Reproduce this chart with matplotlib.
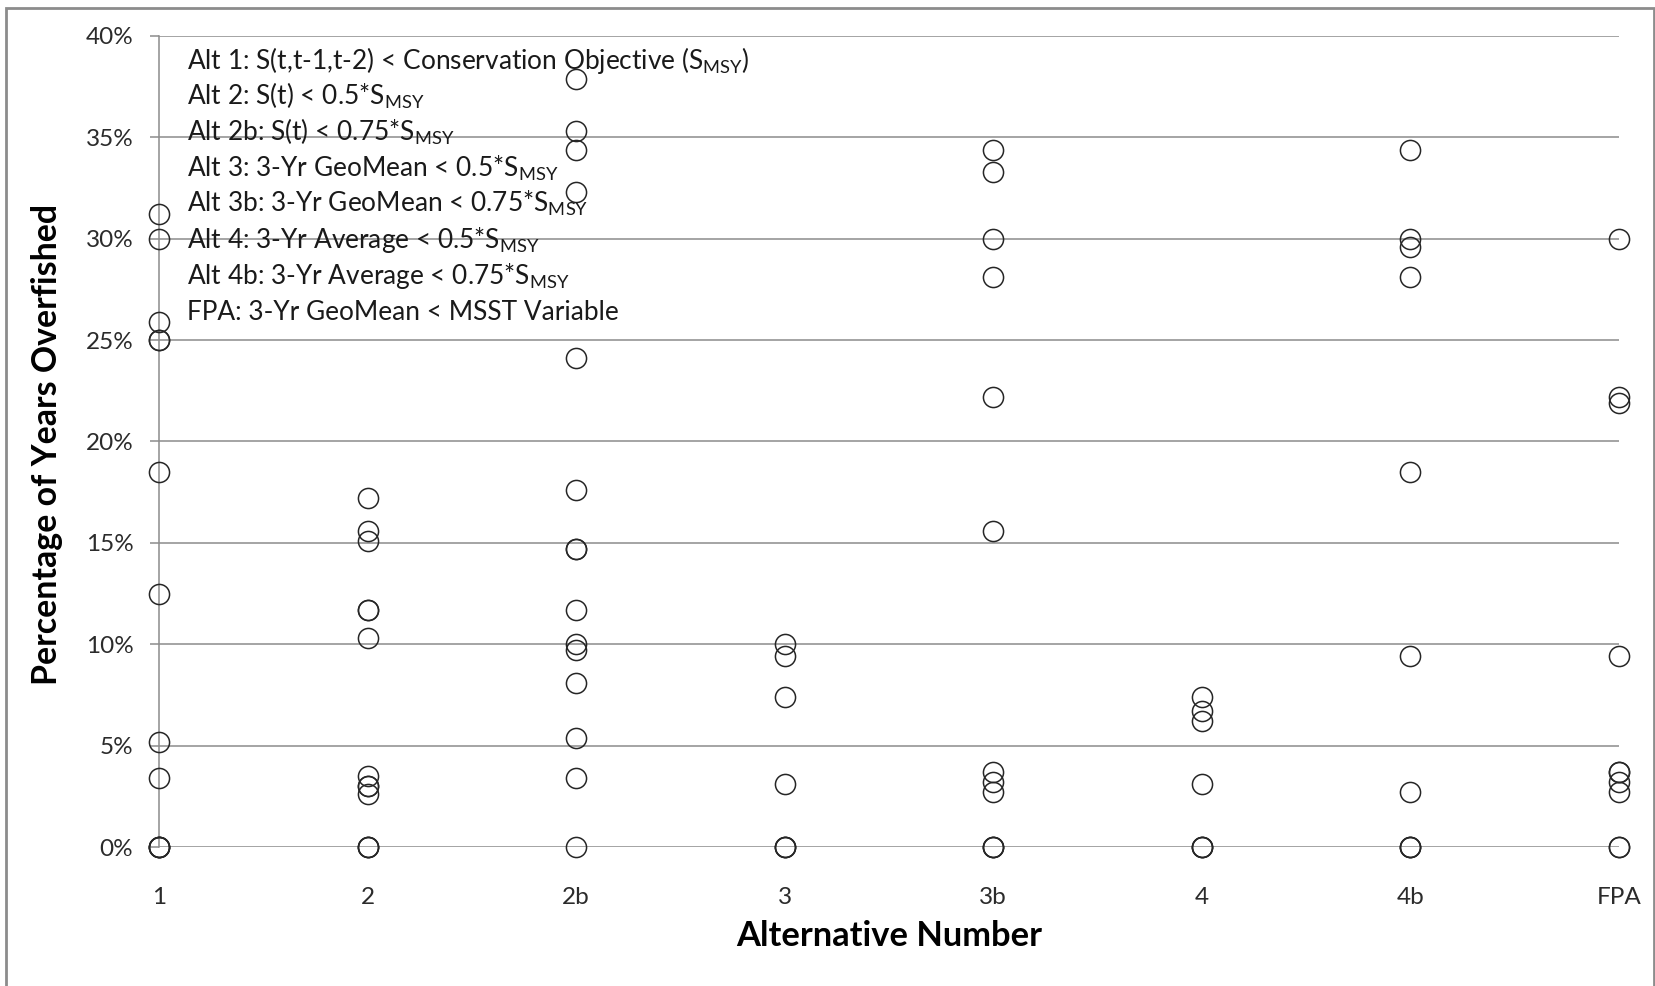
import matplotlib
matplotlib.use("Agg")
import matplotlib.pyplot as plt
from matplotlib.patches import Rectangle

# ---------------- data ----------------
categories = ["1", "2", "2b", "3", "3b", "4", "4b", "FPA"]

alt_1 = [31.2, 30.0, 25.9, 25.0, 25.0, 18.5, 12.5, 5.2, 3.4, 0, 0, 0, 0]
alt_2 = [17.2, 15.6, 15.1, 11.7, 11.7, 10.3, 3.5, 3.0, 3.0, 2.6, 0, 0, 0]
alt_2b = [37.9, 35.3, 34.4, 32.3, 24.1, 17.6, 14.7, 14.7, 11.7, 10.0, 9.7, 8.1, 5.4, 3.4, 0]
alt_3 = [10.0, 9.4, 7.4, 3.1, 0, 0, 0]
alt_3b = [34.4, 33.3, 30.0, 28.1, 22.2, 15.6, 3.7, 3.2, 2.7, 0, 0, 0]
alt_4 = [7.4, 6.7, 6.2, 3.1, 0, 0, 0]
alt_4b = [34.4, 30.0, 29.6, 28.1, 18.5, 9.4, 2.7, 0, 0, 0]
alt_fpa = [30.0, 22.2, 21.9, 9.4, 3.7, 3.7, 3.2, 2.7, 0, 0]

series = [alt_1, alt_2, alt_2b, alt_3, alt_3b, alt_4, alt_4b, alt_fpa]

y_ticks = [0, 5, 10, 15, 20, 25, 30, 35, 40]
y_tick_labels = ["0%", "5%", "10%", "15%", "20%", "25%", "30%", "35%", "40%"]

note_lines = [
    r"Alt 1: S(t,t-1,t-2) < Conservation Objective (S$\mathregular{_{MSY}}$)",
    r"Alt 2: S(t) < 0.5*S$\mathregular{_{MSY}}$",
    r"Alt 2b: S(t) < 0.75*S$\mathregular{_{MSY}}$",
    r"Alt 3: 3-Yr GeoMean < 0.5*S$\mathregular{_{MSY}}$",
    r"Alt 3b: 3-Yr GeoMean < 0.75*S$\mathregular{_{MSY}}$",
    r"Alt 4: 3-Yr Average < 0.5*S$\mathregular{_{MSY}}$",
    r"Alt 4b: 3-Yr Average < 0.75*S$\mathregular{_{MSY}}$",
    "FPA: 3-Yr GeoMean < MSST Variable",
]

x_label = "Alternative Number"
y_label = "Percentage of Years Overfished"

# ---------------- style ----------------
plt.rcParams["font.family"] = ["Lato", "DejaVu Sans"]
plt.rcParams["mathtext.fontset"] = "custom"
plt.rcParams["mathtext.rm"] = "Lato"
plt.rcParams["mathtext.it"] = "Lato:italic"
plt.rcParams["mathtext.bf"] = "Lato:bold"

W, H = 1656, 986
fig = plt.figure(figsize=(W / 100, H / 100), dpi=100)
fig.patch.set_facecolor("white")

ax_left, ax_right, ax_top, ax_bot = 159, 1619, 36, 847
ax = fig.add_axes([ax_left / W, 1 - ax_bot / H, (ax_right - ax_left) / W, (ax_bot - ax_top) / H])
ax.set_facecolor("white")

grid_col = "#8c8c8c"
for i, vals in enumerate(series):
    ax.plot([i] * len(vals), vals, linestyle="none", marker="o", ms=14.5,
            mfc="none", mec="#262626", mew=1.1, clip_on=False, zorder=3)

ax.set_xlim(0, len(categories) - 1)
ax.set_ylim(0, 40)
ax.set_yticks(y_ticks)
ax.set_yticklabels(y_tick_labels)
ax.set_xticks(range(len(categories)))
ax.set_xticklabels(categories)

ax.yaxis.grid(True, color=grid_col, linewidth=1.1, zorder=1)
ax.set_axisbelow(True)
for s in ["top", "right", "bottom"]:
    ax.spines[s].set_visible(False)
ax.spines["left"].set_color(grid_col)
ax.spines["left"].set_linewidth(1.1)

ax.tick_params(axis="y", length=6.5, width=1.1, color=grid_col, pad=12,
               labelsize=17.5, labelcolor="#2b2b2b")
ax.tick_params(axis="x", length=0, pad=29, labelsize=17.5, labelcolor="#2b2b2b")

# notes
note_texts = []
x0 = 187 / W
for k, line in enumerate(note_lines):
    yc = 63 + k * 35.8
    t = fig.text(x0, 1 - (yc + 6) / H, line, ha="left", va="baseline",
                 fontsize=16, color="#1a1a1a")
    note_texts.append(t)

xl = fig.text(889 / W, 1 - 936 / H, x_label, ha="center", va="center",
              fontsize=19, fontweight="bold", color="black")
yl = fig.text(47.5 / W, 1 - 444 / H, y_label, ha="center", va="center",
              rotation=90, fontsize=19, fontweight="bold", color="black")

# fit text sizes to reference extents
fig.canvas.draw()
r = fig.canvas.get_renderer()
s1 = 568.0 / note_texts[0].get_window_extent(r).width
s2 = 429.0 / note_texts[-1].get_window_extent(r).width
scale = 0.5 * (s1 + s2)
for t in note_texts:
    t.set_fontsize(16 * scale)
w = xl.get_window_extent(r).width
xl.set_fontsize(19 * 306.0 / w)
h = yl.get_window_extent(r).height
yl.set_fontsize(19 * 479.0 / h)

# chart-area border
border = Rectangle((6 / W, -10 / H), (1654 - 6) / W, (986 - 8 + 10) / H,
                   transform=fig.transFigure, fill=False, edgecolor="#8c8c8c",
                   linewidth=2.0, clip_on=False)
fig.patches.append(border)

fig.savefig("out.png", dpi=100, facecolor="white")
